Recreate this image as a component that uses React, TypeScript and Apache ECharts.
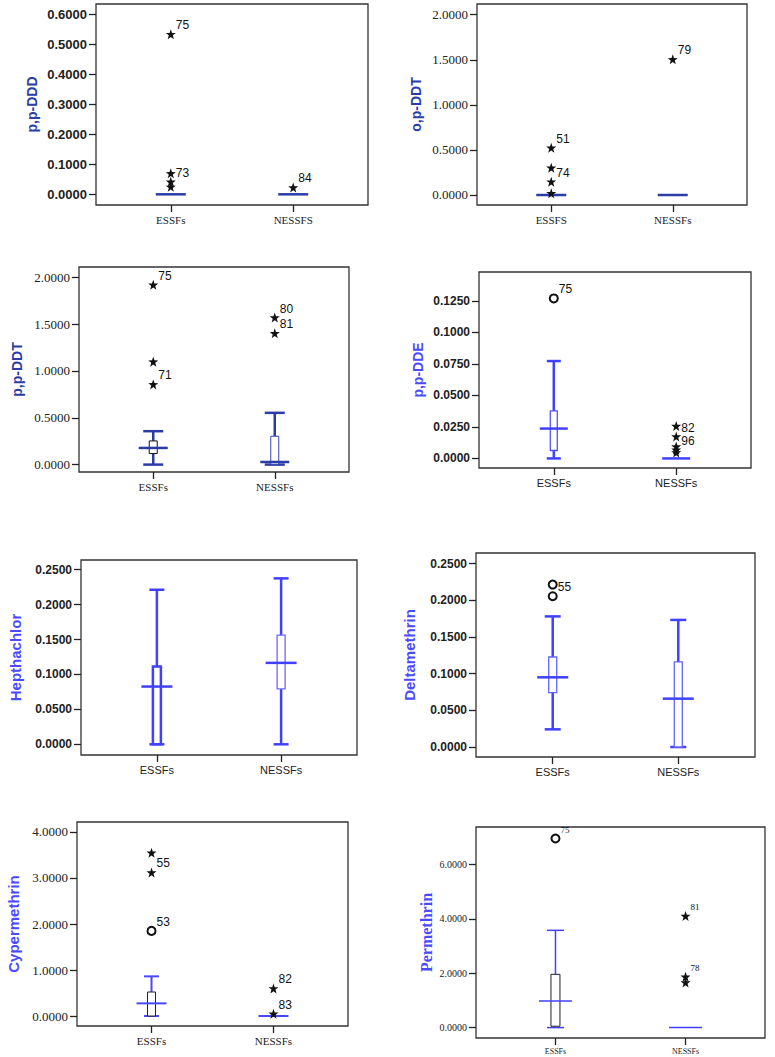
import React, { useEffect, useRef } from 'react';
import * as echarts from 'echarts';

// ---------- data ----------
const dddCats = ['ESSFs', 'NESSFS'];
const dddTicks = [0, 0.1, 0.2, 0.3, 0.4, 0.5, 0.6];
const dddBoxes = [[0, 0, 0, 0, 0], [0, 0, 0, 0, 0]]; // min, q1, median, q3, max
const dddStars = [[0, 0.535, '75'], [0, 0.07, ''], [0, 0.042, '73'], [0, 0.025, ''], [1, 0.023, '84']];
const dddCircles: any[] = [];

const opDdtCats = ['ESSFS', 'NESSFs'];
const opDdtTicks = [0, 0.5, 1, 1.5, 2];
const opDdtBoxes = [[0, 0, 0, 0, 0], [0, 0, 0, 0, 0]];
const opDdtStars = [[0, 0.525, '51'], [0, 0.303, ''], [0, 0.148, '74'], [0, 0.019, ''], [1, 1.505, '79']];
const opDdtCircles: any[] = [];

const ppDdtCats = ['ESSFs', 'NESSFs'];
const ppDdtTicks = [0, 0.5, 1, 1.5, 2];
const ppDdtBoxes = [[0, 0.118, 0.178, 0.253, 0.357], [0, 0.003, 0.028, 0.303, 0.553]];
const ppDdtStars = [[0, 1.922, '75'], [0, 1.1, ''], [0, 0.857, '71'], [1, 1.571, '80'], [1, 1.404, '81']];
const ppDdtCircles: any[] = [];

const ddeCats = ['ESSFs', 'NESSFs'];
const ddeTicks = [0, 0.025, 0.05, 0.075, 0.1, 0.125];
const ddeBoxes = [[0, 0.0063, 0.0237, 0.0377, 0.0773], [0, 0, 0, 0, 0]];
const ddeStars = [[1, 0.0258, ''], [1, 0.0174, '82'], [1, 0.0095, ''], [1, 0.0069, '96'], [1, 0.0047, '']];
const ddeCircles = [[0, 0.127, '75']];

const heptCats = ['ESSFs', 'NESSFs'];
const heptTicks = [0, 0.05, 0.1, 0.15, 0.2, 0.25];
const heptBoxes = [[0, 0, 0.0827, 0.1114, 0.2213], [0, 0.0794, 0.1166, 0.1563, 0.2376]];
const heptStars: any[] = [];
const heptCircles: any[] = [];

const deltaCats = ['ESSFs', 'NESSFs'];
const deltaTicks = [0, 0.05, 0.1, 0.15, 0.2, 0.25];
const deltaBoxes = [[0.0241, 0.0741, 0.095, 0.1227, 0.178], [0, 0, 0.0659, 0.1159, 0.1732]];
const deltaStars: any[] = [];
const deltaCircles = [[0, 0.2214, ''], [0, 0.2055, '55']];

const cyperCats = ['ESSFs', 'NESSFs'];
const cyperTicks = [0, 1, 2, 3, 4];
const cyperBoxes = [[0, 0, 0.275, 0.522, 0.862], [0, 0, 0, 0, 0]];
const cyperStars = [[0, 3.55, ''], [0, 3.12, '55'], [1, 0.6, '82'], [1, 0.05, '83']];
const cyperCircles = [[0, 1.85, '53']];

const permCats = ['ESSFs', 'NESSFs'];
const permTicks = [0, 2, 4, 6];
const permBoxes = [[0, 0.05, 0.98, 1.96, 3.58], [0, 0, 0, 0, 0]];
const permStars = [[1, 4.11, '81'], [1, 1.87, '78'], [1, 1.66, '']];
const permCircles = [[0, 6.96, '75']];

// ---------- layout / style ----------
const SANS = 'Liberation Sans, Arial, sans-serif';
const SERIF = 'Liberation Serif, Times New Roman, serif';
const DARK = '#2b3ca6';
const BRIGHT = '#4040ff';

const panels = [
  {
    title: 'p,p-DDD', cats: dddCats, ticks: dddTicks, boxes: dddBoxes, stars: dddStars, circles: dddCircles,
    grid: { left: 96, top: 4, width: 272, height: 201 }, y: [-0.0357, 0.6357], nameGap: 57,
    nameColor: DARK, nameFont: SANS, nameSize: 14, tickFont: SANS, tickSize: 13, tickWeight: 'bold',
    catFont: SERIF, catSize: 11, line: DARK, lineW: 2.5, boxColors: [DARK, DARK], boxLW: [1, 1],
    medW: 30, capW: 20, boxW: 8, labFont: SANS, labSize: 12,
  },
  {
    title: 'o,p-DDT', cats: opDdtCats, ticks: opDdtTicks, boxes: opDdtBoxes, stars: opDdtStars, circles: opDdtCircles,
    grid: { left: 477, top: 4, width: 270, height: 201 }, y: [-0.111, 2.119], nameGap: 54,
    nameColor: DARK, nameFont: SANS, nameSize: 14, tickFont: SERIF, tickSize: 13, tickWeight: 'normal',
    catFont: SERIF, catSize: 11, line: DARK, lineW: 2.5, boxColors: [DARK, DARK], boxLW: [1, 1],
    medW: 30, capW: 20, boxW: 8, labFont: SANS, labSize: 12,
  },
  {
    title: 'p,p-DDT', cats: ppDdtCats, ticks: ppDdtTicks, boxes: ppDdtBoxes, stars: ppDdtStars, circles: ppDdtCircles,
    grid: { left: 79, top: 267, width: 270, height: 205 }, y: [-0.079, 2.111], nameGap: 55,
    nameColor: DARK, nameFont: SANS, nameSize: 14, tickFont: SERIF, tickSize: 13, tickWeight: 'normal',
    catFont: SERIF, catSize: 11, line: DARK, lineW: 2.5, boxColors: ['#111111', '#3344b4'], boxLW: [1, 1],
    medW: 29, capW: 20, boxW: 8, labFont: SANS, labSize: 12,
  },
  {
    title: 'p,p-DDE', cats: ddeCats, ticks: ddeTicks, boxes: ddeBoxes, stars: ddeStars, circles: ddeCircles,
    grid: { left: 479, top: 272, width: 272, height: 196 }, y: [-0.0076, 0.148], nameGap: 54,
    nameColor: '#4a4aff', nameFont: SANS, nameSize: 14, tickFont: SANS, tickSize: 12, tickWeight: 'bold',
    catFont: SANS, catSize: 11, line: BRIGHT, lineW: 2.5, boxColors: ['#5252ff', '#5252ff'], boxLW: [1.3, 1.3],
    medW: 28, capW: 14, boxW: 7, labFont: SANS, labSize: 12,
  },
  {
    title: 'Hepthachlor', cats: heptCats, ticks: heptTicks, boxes: heptBoxes, stars: heptStars, circles: heptCircles,
    grid: { left: 81, top: 560, width: 276, height: 195 }, y: [-0.0153, 0.2639], nameGap: 58,
    nameColor: '#4a4aff', nameFont: SANS, nameSize: 15, tickFont: SANS, tickSize: 12, tickWeight: 'bold',
    catFont: SANS, catSize: 11, line: BRIGHT, lineW: 2.5, boxColors: [BRIGHT, '#6a6aff'], boxLW: [2.5, 1.3],
    medW: 31, capW: 15, boxW: 8, labFont: SANS, labSize: 12,
  },
  {
    title: 'Deltamethrin', cats: deltaCats, ticks: deltaTicks, boxes: deltaBoxes, stars: deltaStars, circles: deltaCircles,
    grid: { left: 476, top: 553, width: 279, height: 204 }, y: [-0.0136, 0.2644], nameGap: 59,
    nameColor: '#4a4aff', nameFont: SANS, nameSize: 15, tickFont: SANS, tickSize: 12, tickWeight: 'bold',
    catFont: SANS, catSize: 11, line: BRIGHT, lineW: 2.5, boxColors: ['#6464ff', '#6464ff'], boxLW: [1.3, 1.3],
    medW: 31, capW: 16, boxW: 8, labFont: SANS, labSize: 12,
  },
  {
    title: 'Cypermethrin', cats: cyperCats, ticks: cyperTicks, boxes: cyperBoxes, stars: cyperStars, circles: cyperCircles,
    grid: { left: 77, top: 822, width: 271, height: 204 }, y: [-0.217, 4.217], nameGap: 56,
    nameColor: '#4a4aff', nameFont: SANS, nameSize: 15, tickFont: SERIF, tickSize: 13, tickWeight: 'normal',
    catFont: SERIF, catSize: 11, line: '#4848ff', lineW: 2, boxColors: ['#222222', '#222222'], boxLW: [1, 1],
    medW: 30, capW: 15, boxW: 8, labFont: SANS, labSize: 12,
  },
  {
    title: 'Permethrin', cats: permCats, ticks: permTicks, boxes: permBoxes, stars: permStars, circles: permCircles,
    grid: { left: 476, top: 827, width: 289, height: 211 }, y: [-0.383, 7.384], nameGap: 42,
    nameColor: '#4a4aff', nameFont: SERIF, nameSize: 16, tickFont: SERIF, tickSize: 10, tickWeight: 'normal',
    catFont: SERIF, catSize: 8, line: '#4040ff', lineW: 1.5, boxColors: ['#222222', '#222222'], boxLW: [1, 1],
    medW: 33, capW: 17, boxW: 9, labFont: SERIF, labSize: 9,
  },
];

const STAR = 'path://M0,-10 L2.35,-3.24 L9.51,-3.09 L3.8,1.24 L5.88,8.09 L0,4 L-5.88,8.09 L-3.8,1.24 L-9.51,-3.09 L-2.35,-3.24 Z';

function makeRender(p: any) {
  return (params: any, api: any) => {
    const i = params.dataIndex;
    const x = api.value(0);
    const mn = api.coord([x, api.value(1)]);
    const q1 = api.coord([x, api.value(2)]);
    const md = api.coord([x, api.value(3)]);
    const q3 = api.coord([x, api.value(4)]);
    const mx = api.coord([x, api.value(5)]);
    const cx = mn[0];
    const ls = { stroke: p.line, lineWidth: p.lineW };
    const ch: any[] = [];
    const degenerate = mn[1] - mx[1] < 0.5;
    if (mn[1] - q1[1] > 0.5) ch.push({ type: 'line', shape: { x1: cx, y1: mn[1], x2: cx, y2: q1[1] }, style: ls });
    if (q3[1] - mx[1] > 0.5) ch.push({ type: 'line', shape: { x1: cx, y1: q3[1], x2: cx, y2: mx[1] }, style: ls });
    if (!degenerate) {
      ch.push({ type: 'line', shape: { x1: cx - p.capW / 2, y1: mn[1], x2: cx + p.capW / 2, y2: mn[1] }, style: ls });
      ch.push({ type: 'line', shape: { x1: cx - p.capW / 2, y1: mx[1], x2: cx + p.capW / 2, y2: mx[1] }, style: ls });
    }
    if (q1[1] - q3[1] > 0.5) {
      ch.push({
        type: 'rect',
        shape: { x: cx - p.boxW / 2, y: q3[1], width: p.boxW, height: q1[1] - q3[1] },
        style: { fill: '#ffffff', stroke: p.boxColors[i], lineWidth: p.boxLW[i] },
      });
    }
    ch.push({ type: 'line', shape: { x1: cx - p.medW / 2, y1: md[1], x2: cx + p.medW / 2, y2: md[1] }, style: ls });
    return { type: 'group', children: ch };
  };
}

function buildOption() {
  const grid: any[] = [];
  const xAxis: any[] = [];
  const yAxis: any[] = [];
  const series: any[] = [];
  panels.forEach((p, k) => {
    grid.push({ ...p.grid, show: true, borderColor: '#333', borderWidth: 1.3, backgroundColor: 'transparent' });
    xAxis.push({
      type: 'value', gridIndex: k, min: -0.611, max: 1.611, position: 'bottom',
      axisLine: { show: false, onZero: false },
      splitLine: { show: false },
      axisTick: { show: true, customValues: [0, 1], length: 7, lineStyle: { color: '#222', width: 1.3 } },
      axisLabel: {
        customValues: [0, 1], margin: 9,
        formatter: (v: number) => p.cats[Math.round(v)] || '',
        fontFamily: p.catFont, fontSize: p.catSize, color: '#222',
      },
    });
    yAxis.push({
      type: 'value', gridIndex: k, min: p.y[0], max: p.y[1], position: 'left',
      name: p.title, nameLocation: 'middle', nameRotate: 90, nameGap: p.nameGap,
      nameTextStyle: { color: p.nameColor, fontFamily: p.nameFont, fontSize: p.nameSize, fontWeight: 'bold' },
      axisLine: { show: false, onZero: false },
      splitLine: { show: false },
      axisTick: { show: true, customValues: p.ticks, length: 7, lineStyle: { color: '#222', width: 1.3 } },
      axisLabel: {
        customValues: p.ticks, margin: 9,
        formatter: (v: number) => v.toFixed(4),
        fontFamily: p.tickFont, fontSize: p.tickSize, fontWeight: p.tickWeight, color: '#222',
      },
    });
    series.push({
      type: 'custom', xAxisIndex: k, yAxisIndex: k, silent: true, clip: false, z: 2,
      data: p.boxes.map((b, i) => [i, ...b]),
      encode: { x: 0, y: [1, 2, 3, 4, 5] },
      renderItem: makeRender(p),
    });
    const lab = {
      show: true, formatter: '{b}', position: 'right', distance: 0, offset: [0, -9],
      fontFamily: p.labFont, fontSize: p.labSize, color: '#111',
    };
    if (p.stars.length) {
      series.push({
        type: 'scatter', xAxisIndex: k, yAxisIndex: k, silent: true, z: 3,
        symbol: STAR, symbolSize: 10,
        itemStyle: { color: '#111', opacity: 1 },
        label: lab,
        data: p.stars.map((s: any) => ({ value: [s[0], s[1]], name: String(s[2]) })),
      });
    }
    if (p.circles.length) {
      series.push({
        type: 'scatter', xAxisIndex: k, yAxisIndex: k, silent: true, z: 3,
        symbol: 'circle', symbolSize: 8,
        itemStyle: { color: '#ffffff', borderColor: '#111', borderWidth: 2, opacity: 1 },
        label: lab,
        data: p.circles.map((s: any) => ({ value: [s[0], s[1]], name: String(s[2]) })),
      });
    }
  });
  return { animation: false, backgroundColor: '#ffffff', grid, xAxis, yAxis, series };
}

export default function App() {
  const ref = useRef<HTMLDivElement>(null);
  useEffect(() => {
    if (!ref.current) return;
    const chart = echarts.init(ref.current, undefined, { renderer: 'svg' });
    chart.setOption(buildOption() as any);
    return () => chart.dispose();
  }, []);
  return (
    <div
      ref={ref}
      style={{ position: 'absolute', left: 0, top: 0, width: 775, height: 1057, background: '#fff' }}
    />
  );
}
